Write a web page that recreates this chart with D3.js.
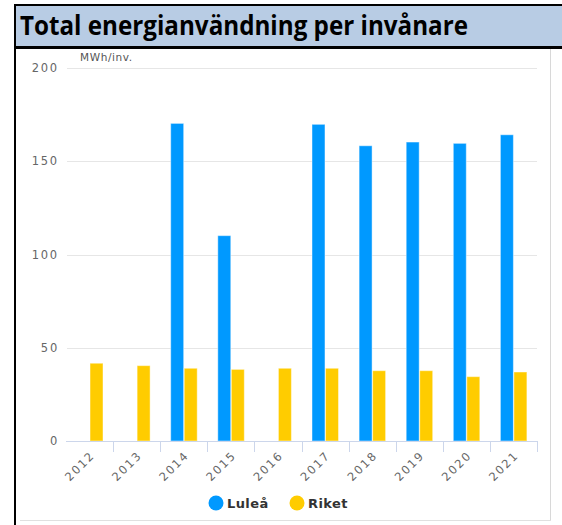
<!DOCTYPE html>
<html>
  <head>
    <meta charset="utf-8">
    <title>Total energianvändning per invånare</title>
    <style>
    body {
        margin: 0;
        background-color: #FFF;
    }
    svg text {
        font-family: "DejaVu Sans", Verdana, sans-serif;
    }
    .grid line {
        stroke: #e6e6e6;
        stroke-width: 1;
    }
    .ylabel, .xlabel {
        fill: #666;
        font-size: 11.5px;
        letter-spacing: 1.8px;
    }
    .legend text {
        fill: #333;
        font-size: 13px;
        font-weight: bold;
        letter-spacing: 0.4px;
    }
    </style>
    <script src="https://d3js.org/d3.v7.min.js"></script>
  </head>
  <body>
    <svg id="chart" width="562" height="525"></svg>

    <script>
    // data (MWh per inhabitant)
    var years = ["2012", "2013", "2014", "2015", "2016", "2017", "2018", "2019", "2020", "2021"];
    var lulea = [null, null, 170.3, 110.1, null, 169.8, 158.3, 160.3, 159.6, 164.2];
    var riket = [41.7, 40.4, 39.0, 38.4, 39.0, 39.0, 37.7, 37.7, 34.5, 37.0];
    var seriesNames = ["Luleå", "Riket"];
    var seriesColors = ["#0099ff", "#ffcc00"];
    var yTicks = [0, 50, 100, 150, 200];

    var svg = d3.select("#chart");

    // title band
    svg.append("rect")
        .attr("x", 14).attr("y", 4)
        .attr("width", 548).attr("height", 45)
        .attr("fill", "#000");
    svg.append("rect")
        .attr("x", 16).attr("y", 6)
        .attr("width", 546).attr("height", 40)
        .attr("fill", "#b8cce4");
    svg.append("rect")
        .attr("x", 14).attr("y", 4)
        .attr("width", 2).attr("height", 521)
        .attr("fill", "#000");
    svg.append("text")
        .attr("x", 20).attr("y", 35)
        .attr("textLength", 448)
        .attr("lengthAdjust", "spacingAndGlyphs")
        .style("font-family", "'Open Sans', 'Liberation Sans', sans-serif")
        .style("font-weight", "bold")
        .style("font-size", "26px")
        .attr("fill", "#000")
        .text("Total energianvändning per invånare");

    // chart panel border
    svg.append("line")
        .attr("x1", 550.5).attr("x2", 550.5)
        .attr("y1", 49).attr("y2", 521)
        .attr("stroke", "#d8d8d8");
    svg.append("line")
        .attr("x1", 20).attr("x2", 551)
        .attr("y1", 520.5).attr("y2", 520.5)
        .attr("stroke", "#e0e0e0");

    var x = d3.scaleBand()
        .domain(years)
        .range([66, 537]);

    var x1 = d3.scaleBand()
        .domain(seriesNames)
        .range([10.5, 37])
        .paddingInner(0.04);

    var y = d3.scaleLinear()
        .domain([0, 200])
        .range([441, 68]);

    // grid
    svg.append("g").attr("class", "grid")
        .selectAll("line")
        .data(yTicks.slice(1))
        .enter().append("line")
        .attr("x1", 67).attr("x2", 537)
        .attr("y1", function(d) { return Math.round(y(d)) + 0.5; })
        .attr("y2", function(d) { return Math.round(y(d)) + 0.5; });

    svg.append("g")
        .selectAll("text")
        .data(yTicks)
        .enter().append("text")
        .attr("class", "ylabel")
        .attr("x", 59)
        .attr("y", function(d) { return y(d) + 4; })
        .attr("text-anchor", "end")
        .text(function(d) { return d; });

    svg.append("text")
        .attr("x", 80).attr("y", 61)
        .attr("fill", "#555")
        .style("font-size", "10.5px")
        .style("letter-spacing", "0.6px")
        .text("MWh/inv.");

    // bars
    var data = [lulea, riket];
    data.forEach(function(values, si) {
        svg.append("g")
            .selectAll("rect")
            .data(years.map(function(yr, i) { return {year: yr, value: values[i]}; })
                .filter(function(d) { return d.value != null; }))
            .enter().append("rect")
            .attr("x", function(d) { return x(d.year) + x1(seriesNames[si]); })
            .attr("width", x1.bandwidth())
            .attr("y", function(d) { return y(d.value); })
            .attr("height", function(d) { return y(0) - y(d.value); })
            .attr("fill", seriesColors[si])
            .attr("stroke", "#fff")
            .attr("stroke-opacity", 0.45)
            .attr("stroke-width", 1);
    });

    // x axis
    svg.append("line")
        .attr("x1", 66).attr("x2", 537)
        .attr("y1", 441.5).attr("y2", 441.5)
        .attr("stroke", "#ccd6eb");

    svg.append("g")
        .selectAll("line")
        .data(years)
        .enter().append("line")
        .attr("x1", function(d) { return Math.round(x(d) + x.bandwidth()) + 0.5; })
        .attr("x2", function(d) { return Math.round(x(d) + x.bandwidth()) + 0.5; })
        .attr("y1", 441).attr("y2", 452)
        .attr("stroke", "#ccd6eb");

    svg.append("g")
        .selectAll("text")
        .data(years)
        .enter().append("text")
        .attr("class", "xlabel")
        .attr("text-anchor", "end")
        .attr("transform", function(d) {
            return "translate(" + (x(d) + x.bandwidth() / 2 + 6) + ",456) rotate(-45)";
        })
        .text(function(d) { return d; });

    // legend
    var legend = svg.append("g").attr("class", "legend");
    var legendX = [216, 297];
    seriesNames.forEach(function(name, i) {
        legend.append("circle")
            .attr("cx", legendX[i]).attr("cy", 503)
            .attr("r", 7.5)
            .attr("fill", seriesColors[i]);
        legend.append("text")
            .attr("x", legendX[i] + 11).attr("y", 507.5)
            .text(name);
    });
    </script>
  </body>
</html>
